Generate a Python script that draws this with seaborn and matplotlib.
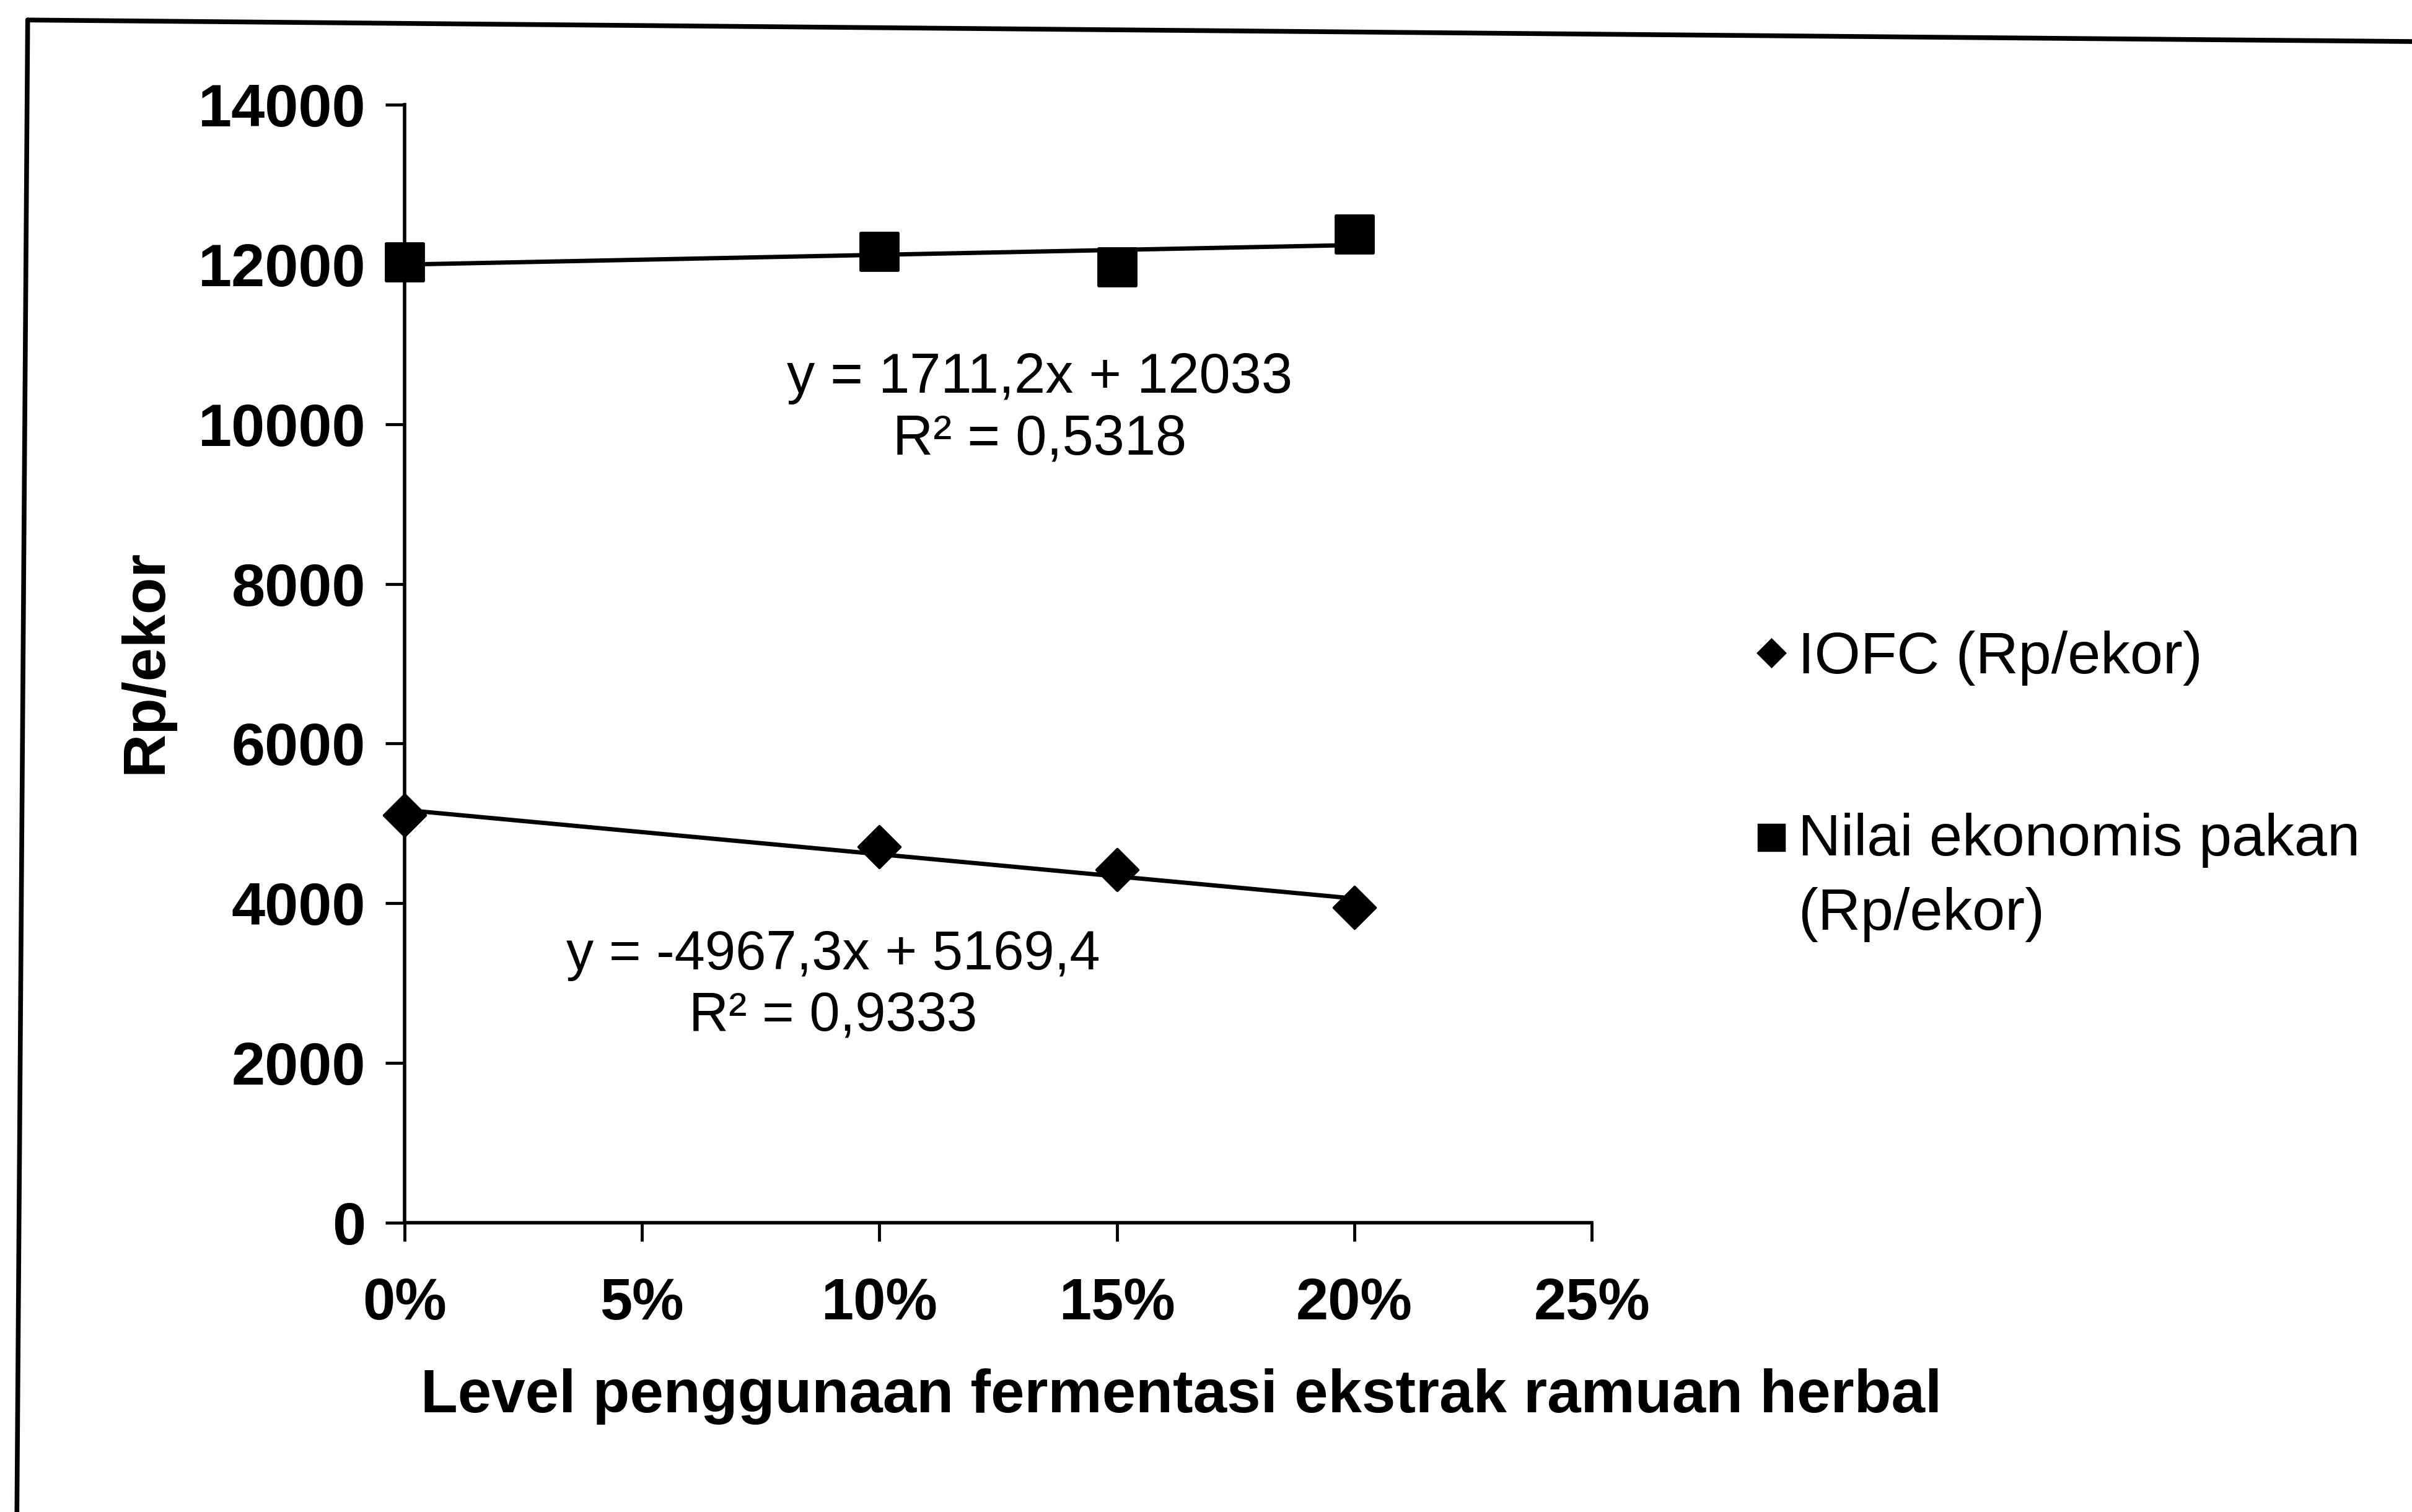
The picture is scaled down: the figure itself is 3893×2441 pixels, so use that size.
import pandas as pd
import matplotlib.pyplot as plt
import seaborn as sns
from matplotlib.lines import Line2D
from matplotlib.ticker import FuncFormatter

# -------------------------------
# Data
level = [0.0, 0.10, 0.15, 0.20]
iofc = [5100, 4710, 4420, 3950]
nilai_pakan = [12030, 12160, 11970, 12380]

iofc_label = "IOFC (Rp/ekor)"
nilai_label = "Nilai ekonomis pakan\n(Rp/ekor)"
iofc_eq = "y = -4967,3x + 5169,4\nR\u00b2 = 0,9333"
nilai_eq = "y = 1711,2x + 12033\nR\u00b2 = 0,5318"
x_ticks = [0, 0.05, 0.10, 0.15, 0.20, 0.25]
y_ticks = [0, 2000, 4000, 6000, 8000, 10000, 12000, 14000]

df = pd.DataFrame({"level": level, "iofc": iofc, "nilai": nilai_pakan})

# -------------------------------
sns.set_theme(style="white")
plt.rcParams['font.family'] = ['Liberation Sans', 'DejaVu Sans']

fig = plt.figure(figsize=(15.572, 9.764), dpi=250)
ax = fig.add_axes([0.1677, 0.1913, 0.4923, 0.7395])

# trend lines (linear fit)
sns.regplot(data=df, x="level", y="nilai", ci=None, scatter=False, ax=ax,
            line_kws={"color": "black", "lw": 2.0})
sns.regplot(data=df, x="level", y="iofc", ci=None, scatter=False, ax=ax,
            line_kws={"color": "black", "lw": 2.0})

# markers
sns.scatterplot(data=df, x="level", y="nilai", marker="s", s=300, color="black",
                edgecolor="black", ax=ax, clip_on=False, zorder=5)
sns.scatterplot(data=df, x="level", y="iofc", marker="D", s=190, color="black",
                edgecolor="black", ax=ax, clip_on=False, zorder=5)

ax.set_xlim(0, 0.25)
ax.set_ylim(0, 14000)
ax.set_xticks(x_ticks)
ax.set_yticks(y_ticks)
ax.xaxis.set_major_formatter(FuncFormatter(lambda v, p: f"{v*100:.0f}%"))
ax.yaxis.set_major_formatter(FuncFormatter(lambda v, p: f"{v:.0f}"))
ax.set_xlabel("")
ax.set_ylabel("")

sns.despine(ax=ax)
for s in ["left", "bottom"]:
    ax.spines[s].set_color("black")
    ax.spines[s].set_linewidth(1.6)
ax.tick_params(axis="y", left=True, direction="out", length=9, width=1.4, pad=9,
               labelsize=28, colors="black")
ax.tick_params(axis="x", bottom=True, direction="out", length=8.5, width=1.4, pad=16.5,
               labelsize=27, colors="black")
for lab in ax.get_xticklabels() + ax.get_yticklabels():
    lab.set_fontweight("bold")

# equation annotations
ax.text(0.1337, 10187, nilai_eq, ha="center", va="center", fontsize=26,
        linespacing=1.22, color="black")
ax.text(0.0903, 2966, iofc_eq, ha="center", va="center", fontsize=25.5,
        linespacing=1.22, color="black")

# axis titles
fig.text(0.0606, 0.5626, "Rp/ekor", rotation=90, ha="center", va="center",
         fontsize=28, fontweight="bold", color="black")
fig.text(0.4898, 0.0763, "Level penggunaan fermentasi ekstrak ramuan herbal",
         ha="center", va="center", fontsize=28.2, fontweight="bold", color="black")

# legend
handles = [
    Line2D([], [], marker="D", color="black", ls="none", markersize=9),
    Line2D([], [], marker="s", color="black", ls="none", markersize=12),
]
leg = fig.legend(handles, [iofc_label, nilai_label], loc="upper left",
                 bbox_to_anchor=(1140 / 1568, 1 - 410 / 983), frameon=False,
                 fontsize=27.5, handlelength=0.6, handletextpad=0.15,
                 labelspacing=2.15, borderpad=0, borderaxespad=0,
                 labelcolor="black")
for t in leg.get_texts():
    t.set_linespacing(1.45)
# square marker sits beside the first line of its two-line label
sq = leg.legend_handles[1]
sq.set_ydata([y + 19 for y in sq.get_ydata()])

# scanned page frame
fig.add_artist(Line2D([18 / 1568, 1.0], [1 - 13 / 983, 1 - 27 / 983],
                      transform=fig.transFigure, color="black", lw=2.2))
fig.add_artist(Line2D([18 / 1568, 11 / 1568], [1 - 13 / 983, 0.0],
                      transform=fig.transFigure, color="black", lw=2.2))

plt.savefig("out.png", dpi=250, facecolor="white")
